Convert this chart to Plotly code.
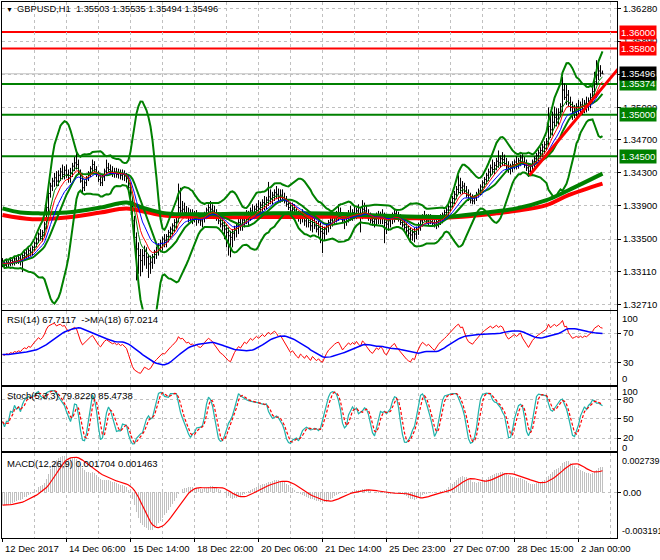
import numpy as np
import pandas as pd
import plotly.graph_objects as go

# ---------------- data (prices in pips above 1.3000) ----------------
PIP = 0.0001
BASE = 1.3
FIRST_OPEN_PIPS = 323

CLOSE_PIPS = [
    321, 318, 322, 320, 324, 322, 326, 324, 327, 325,
    330, 333, 331, 336, 334, 340, 345, 350, 356, 353,
    358, 368, 388, 405, 414, 420, 424, 420, 427, 431,
    428, 433, 428, 424, 430, 438, 442, 440, 430, 420,
    412, 418, 424, 430, 435, 440, 434, 428, 422, 418,
    425, 432, 436, 434, 432, 429, 431, 428, 430, 427,
    429, 426, 423, 412, 395, 372, 352, 338, 330, 324,
    330, 335, 328, 320, 322, 328, 334, 338, 342, 345,
    350, 348, 353, 358, 362, 366, 370, 376, 388, 384,
    386, 382, 378, 380, 376, 377, 374, 376, 373, 372,
    375, 380, 385, 388, 386, 384, 380, 376, 372, 368,
    366, 362, 358, 354, 352, 357, 362, 366, 370, 368,
    373, 377, 375, 380, 384, 382, 386, 389, 387, 391,
    394, 392, 397, 401, 399, 403, 406, 404, 401, 403,
    400, 396, 392, 388, 384, 386, 382, 378, 375, 379,
    376, 372, 375, 370, 366, 370, 366, 362, 364, 359,
    357, 362, 366, 370, 373, 376, 378, 380, 381, 377,
    372, 375, 378, 381, 379, 382, 380, 384, 381, 379,
    386, 384, 380, 376, 373, 371, 374, 377, 375, 378,
    376, 370, 368, 372, 376, 379, 381, 377, 374, 370,
    367, 364, 360, 357, 355, 358, 356, 362, 367, 372,
    376, 374, 372, 374, 371, 369, 367, 371, 374, 377,
    379, 382, 385, 389, 394, 399, 404, 410, 415, 412,
    414, 408, 403, 399, 397, 396, 400, 404, 408, 413,
    418, 422, 427, 431, 436, 434, 439, 444, 442, 447,
    446, 441, 437, 434, 437, 440, 443, 441, 445, 448,
    443, 439, 436, 432, 438, 443, 447, 451, 454, 457,
    461, 464, 468, 486, 482, 491, 497, 495, 503, 510,
    530, 521, 524, 514, 509, 504, 507, 510, 508, 512,
    510, 514, 513, 517, 521, 528, 540, 548, 553, 550.3,
    549.6,
]
HIGH_PIPS = [
    327, 324, 325, 326, 327, 328, 329, 330, 331, 331,
    334, 336, 338, 339, 340, 342, 347, 352, 358, 362,
    361, 371, 391, 410, 418, 424, 430, 432, 433, 436,
    440, 438, 440, 434, 436, 442, 449, 455, 446, 434,
    426, 421, 426, 432, 438, 446, 444, 438, 432, 428,
    428, 435, 446, 442, 440, 438, 436, 436, 435, 434,
    434, 433, 430, 428, 418, 400, 378, 358, 346, 338,
    338, 342, 340, 332, 330, 332, 337, 341, 345, 349,
    353, 356, 356, 361, 365, 369, 374, 380, 417, 412,
    396, 394, 390, 388, 386, 386, 384, 385, 382, 380,
    380, 383, 388, 392, 396, 392, 390, 386, 382, 378,
    376, 372, 368, 364, 360, 362, 366, 370, 374, 378,
    376, 380, 385, 384, 388, 392, 390, 393, 397, 395,
    398, 402, 401, 419, 410, 407, 410, 414, 411, 410,
    410, 406, 402, 398, 394, 394, 392, 388, 384, 384,
    386, 382, 382, 380, 376, 378, 376, 372, 372, 370,
    366, 365, 369, 373, 376, 379, 381, 384, 392, 388,
    382, 380, 382, 385, 390, 386, 390, 388, 392, 388,
    397, 394, 390, 386, 382, 380, 380, 382, 384, 383,
    386, 382, 378, 375, 379, 382, 385, 386, 383, 380,
    376, 373, 370, 366, 364, 362, 364, 365, 370, 375,
    380, 384, 380, 380, 380, 378, 375, 374, 377, 380,
    382, 385, 388, 392, 397, 402, 408, 414, 427, 424,
    420, 418, 414, 410, 406, 404, 403, 407, 411, 416,
    421, 425, 430, 435, 440, 446, 443, 448, 457, 451,
    455, 452, 448, 444, 441, 444, 446, 450, 448, 452,
    453, 449, 446, 442, 441, 446, 450, 454, 458, 461,
    465, 468, 472, 509, 500, 504, 510, 508, 508, 514,
    546, 538, 536, 530, 522, 516, 512, 514, 518, 516,
    520, 518, 522, 521, 526, 535, 552, 566, 564, 560,
    553.5,
]
LOW_PIPS = [
    316, 314, 315, 316, 317, 318, 318, 320, 320, 318,
    310, 325, 326, 327, 329, 330, 335, 340, 345, 348,
    347, 352, 362, 382, 400, 408, 413, 414, 414, 420,
    422, 422, 424, 418, 418, 425, 432, 434, 428, 418,
    405, 408, 414, 420, 425, 430, 431, 425, 419, 414,
    414, 420, 428, 430, 428, 425, 424, 424, 423, 422,
    421, 420, 418, 408, 390, 366, 340, 300, 308, 305,
    310, 318, 314, 303, 308, 314, 320, 326, 330, 334,
    336, 340, 340, 346, 350, 354, 358, 362, 370, 378,
    376, 378, 375, 370, 372, 368, 370, 366, 369, 366,
    364, 370, 374, 378, 380, 380, 376, 372, 368, 364,
    360, 350, 340, 330, 328, 340, 348, 352, 356, 360,
    360, 364, 368, 366, 372, 375, 374, 378, 380, 380,
    383, 385, 386, 390, 392, 392, 396, 398, 396, 394,
    395, 393, 389, 385, 381, 378, 379, 375, 371, 368,
    370, 366, 364, 364, 360, 358, 362, 358, 354, 345,
    333, 348, 355, 358, 362, 365, 368, 370, 372, 374,
    369, 362, 366, 370, 372, 372, 374, 374, 376, 358,
    374, 378, 376, 372, 369, 366, 364, 366, 368, 368,
    368, 345, 356, 360, 364, 368, 370, 373, 371, 367,
    364, 361, 356, 350, 346, 348, 346, 350, 355, 360,
    365, 371, 369, 366, 368, 366, 364, 362, 364, 367,
    369, 372, 375, 378, 383, 388, 392, 398, 404, 404,
    404, 405, 400, 396, 393, 392, 392, 396, 400, 403,
    408, 412, 416, 420, 425, 428, 428, 433, 436, 436,
    438, 438, 434, 430, 428, 431, 434, 434, 435, 438,
    440, 436, 432, 425, 428, 432, 437, 441, 444, 447,
    450, 453, 457, 462, 472, 475, 484, 486, 488, 497,
    503, 518, 512, 510, 504, 494, 496, 498, 498, 500,
    500, 502, 503, 505, 508, 515, 524, 536, 542, 546,
    549.4,
]

# slow moving averages (thick lines), read at selected bars
GREEN_MA_BARS = [0, 9, 19, 32, 49, 62, 70, 82, 99, 130, 163, 180, 208, 223, 238, 257, 272, 283, 300]
GREEN_MA_PIPS = [387, 382, 381, 382, 388, 394, 388, 381, 380, 381, 381, 379, 377, 377, 381, 387, 397, 409, 429]
RED_MA_BARS = [0, 15, 32, 49, 62, 73, 82, 163, 180, 208, 230, 247, 257, 272, 283, 300]
RED_MA_PIPS = [379, 374, 376, 382, 387, 382, 378, 377, 377, 375, 377, 381, 384, 391, 403, 417]

TREND_BARS = [263.5, 308]
TREND_PRICES = [1.3427, 1.3556]

LEVEL_PRICES = [1.36000, 1.35800, 1.35374, 1.35000, 1.34500]
LEVEL_COLORS = ["#ff0000", "#ff0000", "#008000", "#008000", "#008000"]
LAST_PRICE = 1.35496

PRICE_TICKS = [1.36280, 1.35890, 1.35490, 1.35090, 1.34700, 1.34300, 1.33900, 1.33500, 1.33110, 1.32710]
PRICE_TICK_TEXT = ["1.36280", "1.35890", "", "1.35090", "1.34700", "1.34300", "1.33900", "1.33500",
                   "1.33110", "1.32710"]
GRID_BARS = list(range(0, 305, 16))
DATE_TICK_BARS = [0, 32, 64, 96, 128, 160, 192, 224, 256, 288]
DATE_LABELS = ["12 Dec 2017", "14 Dec 06:00", "15 Dec 14:00", "18 Dec 22:00", "20 Dec 06:00",
               "21 Dec 14:00", "25 Dec 23:00", "27 Dec 07:00", "28 Dec 15:00", "2 Jan 00:00"]

NB = "\u00a0"
TITLE = f"GBPUSD,H1{NB}{NB}1.35503 1.35535 1.35494 1.35496"
RSI_TITLE = f"RSI(14) 67.7117{NB}{NB}->MA(18) 67.0214"
STOCH_TITLE = "Stoch(5,3,3) 79.8220 85.4738"
MACD_TITLE = "MACD(12,26,9) 0.001704 0.001463"

# indicator state at the first visible bar (estimated from the panels)
MACD_SEED_FAST = 1.3329
MACD_SEED_SLOW = 1.3338
RSI_SEED_GAIN = 0.00040
RSI_SEED_LOSS = 0.00058
MACD_RANGE = [-0.003191, 0.002739]
PRICE_RANGE = [1.32649, 1.36363]
BB_PERIOD = 15
BB_DEV = 3.0

# ---------------- derived series ----------------
n = len(CLOSE_PIPS)
idx = np.arange(n)
close = BASE + np.array(CLOSE_PIPS, float) * PIP
open_ = np.concatenate([[BASE + FIRST_OPEN_PIPS * PIP], close[:-1]])
high = np.maximum(BASE + np.array(HIGH_PIPS, float) * PIP, np.maximum(open_, close))
low = np.minimum(BASE + np.array(LOW_PIPS, float) * PIP, np.minimum(open_, close))
cs = pd.Series(close)


def ema(values, period, seed=None):
    a = 2.0 / (period + 1)
    v = values[0] if seed is None else seed
    out = []
    for x in values:
        v = v + a * (x - v)
        out.append(v)
    return np.array(out)


ma_fast = ema(close, 5)
ma_mid = ema(close, 8)
ma_slow = ema(close, 13)

bb_mid = cs.rolling(BB_PERIOD, min_periods=1).mean()
bb_sd = cs.rolling(BB_PERIOD, min_periods=1).std(ddof=0)
bb_up = bb_mid + BB_DEV * bb_sd
bb_lo = bb_mid - BB_DEV * bb_sd

# RSI (Wilder)
ag, al = RSI_SEED_GAIN, RSI_SEED_LOSS
rsi = []
prev = close[0]
for x in close:
    d = x - prev
    prev = x
    ag = (ag * 13 + max(d, 0)) / 14
    al = (al * 13 + max(-d, 0)) / 14
    rsi.append(100 - 100 / (1 + ag / al) if al > 0 else 100)
rsi = pd.Series(rsi)
rsi_ma = rsi.rolling(18, min_periods=1).mean()

# Stochastic 5,3,3
hs, ls = pd.Series(high), pd.Series(low)
hh = hs.rolling(5, min_periods=1).max()
ll = ls.rolling(5, min_periods=1).min()
k = 100 * (cs - ll).rolling(3, min_periods=1).sum() / (hh - ll).rolling(3, min_periods=1).sum()
dline = k.rolling(3, min_periods=1).mean()

# MACD 12,26,9
macd = ema(close, 12, MACD_SEED_FAST) - ema(close, 26, MACD_SEED_SLOW)
macd_sig = pd.Series(macd).rolling(9, min_periods=1).mean()

# ---------------- figure ----------------
W, H = 660, 560
L, R, T, B = 2, 43, 2, 22
PW, PH = W - L - R, H - T - B
XR = [-0.25, 307.25]


def fx(px):
    return (px - L) / PW


def fy(py):
    return 1 - (py - T) / PH


FONT = "Liberation Sans, Arial, sans-serif"
FS = 9.5
GRID = "#c0c0c0"
GDASH = "3px,3px"

fig = go.Figure()

# main panel
fig.add_trace(go.Scatter(x=RED_MA_BARS, y=BASE + np.array(RED_MA_PIPS) * PIP, mode="lines",
                         line=dict(color="#ff0000", width=4, shape="spline"), xaxis="x", yaxis="y"))
fig.add_trace(go.Scatter(x=GREEN_MA_BARS, y=BASE + np.array(GREEN_MA_PIPS) * PIP, mode="lines",
                         line=dict(color="#008000", width=4, shape="spline"), xaxis="x", yaxis="y"))
for s in (bb_up, bb_lo, bb_mid):
    fig.add_trace(go.Scatter(x=idx, y=s, mode="lines", line=dict(color="#008000", width=2),
                             xaxis="x", yaxis="y"))
fig.add_trace(go.Ohlc(x=idx, open=open_, high=high, low=low, close=close, tickwidth=0.5,
                      increasing=dict(line=dict(color="black", width=1)),
                      decreasing=dict(line=dict(color="black", width=1)),
                      xaxis="x", yaxis="y", hoverinfo="skip"))
for s, col in ((ma_fast, "#008000"), (ma_slow, "#0000ff"), (ma_mid, "#ff0000")):
    fig.add_trace(go.Scatter(x=idx, y=s, mode="lines", line=dict(color=col, width=1),
                             xaxis="x", yaxis="y"))
fig.add_trace(go.Scatter(x=TREND_BARS, y=TREND_PRICES, mode="lines",
                         line=dict(color="#ff0000", width=3), xaxis="x", yaxis="y"))

# RSI panel
fig.add_trace(go.Scatter(x=idx, y=rsi, mode="lines", line=dict(color="#ff0000", width=1),
                         xaxis="x2", yaxis="y2"))
fig.add_trace(go.Scatter(x=idx, y=rsi_ma, mode="lines", line=dict(color="#0000ff", width=1.5),
                         xaxis="x2", yaxis="y2"))
# Stochastic panel
fig.add_trace(go.Scatter(x=idx, y=k, mode="lines", line=dict(color="#20b2aa", width=1.2),
                         xaxis="x3", yaxis="y3"))
fig.add_trace(go.Scatter(x=idx, y=dline, mode="lines", line=dict(color="#ff0000", width=1.2, dash="3px,2px"),
                         xaxis="x3", yaxis="y3"))
# MACD panel
fig.add_trace(go.Bar(x=idx, y=macd, width=0.5, marker=dict(color="#c0c0c0", line=dict(width=0)),
                     xaxis="x4", yaxis="y4"))
fig.add_trace(go.Scatter(x=idx, y=macd_sig, mode="lines", line=dict(color="#ff0000", width=1.2),
                         xaxis="x4", yaxis="y4"))

# level lines
shapes = []
for p, col in zip(LEVEL_PRICES, LEVEL_COLORS):
    shapes.append(dict(type="line", xref="paper", yref="y", x0=0, x1=1, y0=p, y1=p,
                       line=dict(color=col, width=2), layer="below"))
shapes.append(dict(type="line", xref="paper", yref="y", x0=0, x1=1, y0=LAST_PRICE, y1=LAST_PRICE,
                   line=dict(color="#c0c0c0", width=1), layer="below"))
# date tick marks under the bottom panel
for b in DATE_TICK_BARS:
    shapes.append(dict(type="line", xref="x4", yref="paper", x0=b, x1=b, y0=fy(538), y1=fy(542),
                       line=dict(color="black", width=1)))

ann = []
for p, col in zip(LEVEL_PRICES, LEVEL_COLORS):
    ann.append(dict(x=fx(619), xref="paper", y=p, yref="y", xanchor="left", yanchor="middle",
                    text=f"{p:.5f}", showarrow=False, bgcolor=col, borderpad=1,
                    font=dict(family=FONT, size=FS, color="white")))
ann.append(dict(x=fx(619), xref="paper", y=LAST_PRICE, yref="y", xanchor="left", yanchor="middle",
                text=f"{LAST_PRICE:.5f}", showarrow=False, bgcolor="black", borderpad=1,
                font=dict(family=FONT, size=FS, color="white")))
for b, lab in zip(DATE_TICK_BARS, DATE_LABELS):
    ann.append(dict(x=b, xref="x4", y=fy(548), yref="paper", xanchor="left", yanchor="middle",
                    text=lab, showarrow=False, font=dict(family=FONT, size=FS, color="black")))


def txt(px, py, s, anchor="left", size=FS):
    ann.append(dict(x=fx(px), y=fy(py), xref="paper", yref="paper", xanchor=anchor, yanchor="middle",
                    text=s, showarrow=False, font=dict(family=FONT, size=size, color="black")))


txt(4, 9, "\u25BC", size=7)
txt(15, 9, TITLE, size=9.3)
txt(5, 319, RSI_TITLE)
txt(5, 395, STOCH_TITLE)
txt(5, 463, MACD_TITLE)
txt(620, 318, "100")
txt(620, 378, "0")
txt(620, 391, "100")
txt(620, 447, "0")
txt(620, 461, "0.002739", size=9)
txt(620, 531, "-0.003191", size=9)

axis_common = dict(showline=True, linecolor="black", linewidth=1, mirror=True, zeroline=False,
                   automargin=False)
xcommon = dict(axis_common, range=XR, showgrid=True, gridcolor=GRID, griddash=GDASH,
               tickmode="array", tickvals=GRID_BARS, showticklabels=False, ticks="",
               rangeslider=dict(visible=False))
ycommon = dict(axis_common, side="right", showgrid=True, gridcolor=GRID, griddash=GDASH,
               ticks="outside", ticklen=3, tickcolor="black",
               tickfont=dict(family=FONT, size=FS, color="black"))

fig.update_layout(
    width=W, height=H, margin=dict(l=L, r=R, t=T, b=B, autoexpand=False),
    paper_bgcolor="white", plot_bgcolor="white", showlegend=False,
    shapes=shapes, annotations=ann, bargap=0,
    xaxis=dict(xcommon, anchor="y", domain=[0, 1]),
    xaxis2=dict(xcommon, anchor="y2", domain=[0, 1]),
    xaxis3=dict(xcommon, anchor="y3", domain=[0, 1]),
    xaxis4=dict(xcommon, anchor="y4", domain=[0, 1]),
    yaxis=dict(ycommon, anchor="x", domain=[fy(309.5), fy(2)], range=PRICE_RANGE,
               tickmode="array", tickvals=PRICE_TICKS, ticktext=PRICE_TICK_TEXT),
    yaxis2=dict(ycommon, anchor="x2", domain=[fy(384.5), fy(311)], range=[0, 100],
                tickmode="array", tickvals=[70, 30]),
    yaxis3=dict(ycommon, anchor="x3", domain=[fy(451), fy(386.5)], range=[0, 100],
                tickmode="array", tickvals=[80, 50, 20]),
    yaxis4=dict(ycommon, anchor="x4", domain=[fy(538), fy(453)], range=MACD_RANGE,
                tickmode="array", tickvals=[0], ticktext=["0.00"]),
)

fig.write_html("out.html", config={"displayModeBar": False, "staticPlot": True},
               post_script="document.body.style.margin='0px';")
